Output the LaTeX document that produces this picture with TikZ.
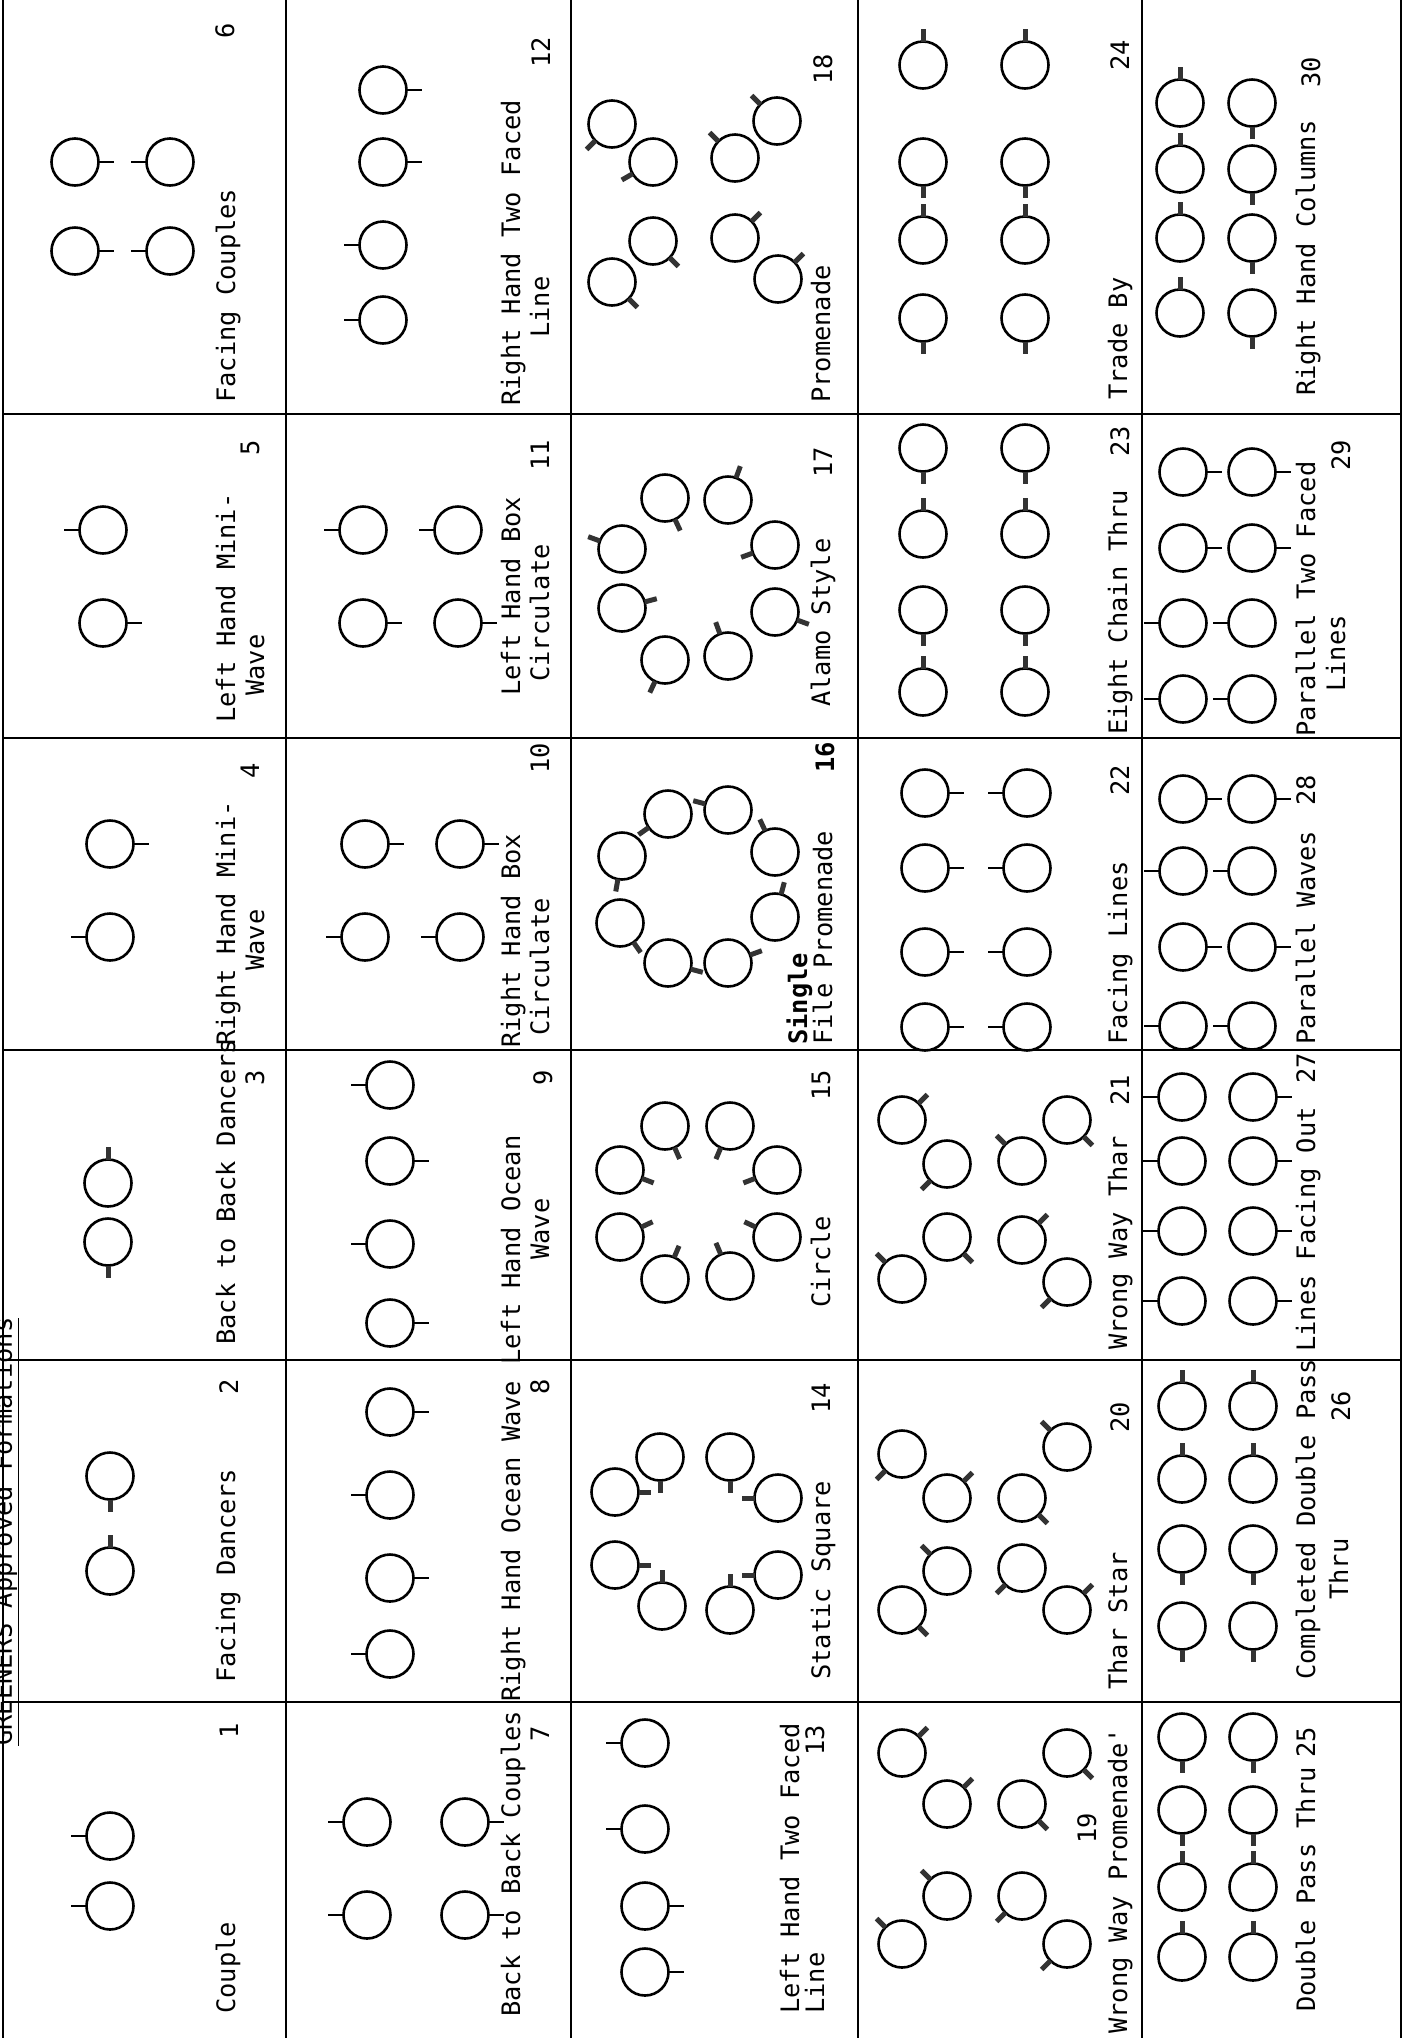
\documentclass[tikz,border=0pt]{standalone}
\usepackage{fontspec}
\setmonofont{DejaVu Sans Mono}
\usetikzlibrary{positioning}

% one dancer: circle with a nose pointing at angle #4
\newcommand{\dancer}[4][nose]{%
  \draw[dancer] (#2,#3) circle[radius=23.5];
  \draw[#1] ([shift={(#4:23.5)}]#2,#3) -- ([shift={(#4:39)}]#2,#3);}

\begin{document}
\begin{tikzpicture}[x=1pt, y=-1pt,
    dancer/.style={line width=2.6pt},
    nose/.style={line width=2.2pt},
    stub/.style={line width=5pt, black!80, shorten >=3pt},
    stripline/.style={line width=2.8pt},
    cellline/.style={line width=1.8pt},
    lbl/.style={rotate=90, anchor=mid west, inner sep=0pt, font=\ttfamily\fontsize{25.4}{28}\selectfont},
    num/.style={rotate=90, anchor=mid, inner sep=0pt, font=\ttfamily\fontsize{25.4}{28}\selectfont}]
\useasboundingbox (0,0) rectangle (1403,2038);

% grid
\foreach \xx in {3,286,571,858,1142,1401}
  \draw[stripline] (\xx,0) -- (\xx,2038);
\foreach \xa/\xb in {3/286,286/571,571/858,858/1142,1142/1401}
  \foreach \yy in {414,738,1050,1360,1702}
    \draw[cellline] (\xa,\yy) -- (\xb,\yy);

% cut-off heading at the left edge
\node (head) [lbl, anchor=base west] at (12,1746) {\underline{GREENERS Approved Formations}};

% strip 1: cells 1-6
\foreach \x/\y/\a in {110/1836/180, 110/1906/180} \dancer{\x}{\y}{\a};
\foreach \x/\y/\a in {110/1476/90, 110/1571/270} \dancer[stub]{\x}{\y}{\a};
\foreach \x/\y/\a in {108/1183/270, 108/1242/90} \dancer[stub]{\x}{\y}{\a};
\foreach \x/\y/\a in {110/844/0, 110/937/180} \dancer{\x}{\y}{\a};
\foreach \x/\y/\a in {103/530/180, 103/623/0} \dancer{\x}{\y}{\a};
\foreach \x/\y/\a in {75/162/0, 170/162/180, 75/251/0, 170/251/180} \dancer{\x}{\y}{\a};

\node (l1) [lbl] at (233,2014) {Couple};
\node (n1) [num] at (236,1731) {1};
\node (l2) [lbl] at (233,1683) {Facing Dancers};
\node (n2) [num] at (236,1387) {2};
\node (l3) [lbl] at (233,1345) {Back to Back Dancers};
\node (n3) [num] at (262,1078) {3};
\node (l4) [lbl] at (233,1046) {Right Hand Mini-};
\node (l4b) [lbl] at (262,971) {Wave};
\node (n4) [num] at (257,771) {4};
\node (l5) [lbl] at (233,723) {Left Hand Mini-};
\node (l5b) [lbl] at (262,696) {Wave};
\node (n5) [num] at (257,448) {5};
\node (l6) [lbl] at (233,403) {Facing Couples};
\node (n6) [num] at (232,31) {6};

% strip 2: cells 7-12
\foreach \x/\y/\a in {367/1822/180, 367/1915/180, 465/1822/0, 465/1915/0} \dancer{\x}{\y}{\a};
\foreach \y/\a in {1412/0, 1495/180, 1578/0, 1654/180} \dancer{390}{\y}{\a};
\foreach \y/\a in {1085/180, 1161/0, 1244/180, 1323/0} \dancer{390}{\y}{\a};
\foreach \x/\y/\a in {365/844/0, 365/937/180, 460/844/0, 460/937/180} \dancer{\x}{\y}{\a};
\foreach \x/\y/\a in {363/530/180, 363/623/0, 458/530/180, 458/623/0} \dancer{\x}{\y}{\a};
\foreach \y/\a in {90/0, 162/0, 245/180, 320/180} \dancer{383}{\y}{\a};

\node (l7) [lbl] at (518,2017) {Back to Back Couples};
\node (n7) [num] at (547,1734) {7};
\node (l8) [lbl] at (518,1702) {Right Hand Ocean Wave};
\node (n8) [num] at (547,1387) {8};
\node (l9) [lbl] at (518,1365) {Left Hand Ocean};
\node (l9b) [lbl] at (547,1260) {Wave};
\node (n9) [num] at (550,1078) {9};
\node (l10) [lbl] at (518,1048) {Right Hand Box};
\node (l10b) [lbl] at (547,1036) {Circulate};
\node (n10) [num] at (547,758) {10};
\node (l11) [lbl] at (518,696) {Left Hand Box};
\node (l11b) [lbl] at (547,682) {Circulate};
\node (n11) [num] at (547,455) {11};
\node (l12) [lbl] at (518,406) {Right Hand Two Faced};
\node (l12b) [lbl] at (547,338) {Line};
\node (n12) [num] at (548,52) {12};

% strip 3: cells 13-18
\foreach \y/\a in {1743/180, 1829/180, 1906/0, 1972/0} \dancer{645}{\y}{\a};
\foreach \x/\y/\a in {660/1457/90, 615/1492/0, 615/1565/0, 662/1606/270,
                      730/1457/90, 778/1498/180, 778/1575/180, 730/1610/270} \dancer[stub]{\x}{\y}{\a};
\foreach \x/\y/\a in {665/1126/66, 620/1170/21, 620/1237/335, 665/1279/293,
                      730/1126/113, 777/1170/159, 777/1237/205, 730/1276/247} \dancer[stub]{\x}{\y}{\a};
\foreach \x/\y/\a in {668/814/145, 622/856/100, 620/923/55, 668/963/15,
                      728/963/340, 775/917/285, 775/852/245, 728/810/195} \dancer[stub]{\x}{\y}{\a};
\foreach \x/\y/\a in {665/498/65, 622/549/200, 622/608/345, 665/660/115,
                      728/500/290, 775/545/160, 775/612/20, 728/656/250} \dancer[stub]{\x}{\y}{\a};
\foreach \x/\y/\a in {612/124/135, 653/162/150, 653/241/45, 612/282/45,
                      735/158/225, 777/121/225, 735/238/315, 778/279/315} \dancer[stub]{\x}{\y}{\a};

\node (l13) [lbl] at (797,2014) {Left Hand Two Faced};
\node (l13b) [lbl] at (822,2014) {Line};
\node (n13) [num] at (822,1740) {13};
\node (l14) [lbl] at (828,1680) {Static Square};
\node (n14) [num] at (828,1398) {14};
\node (l15) [lbl] at (828,1308) {Circle};
\node (n15) [num] at (828,1085) {15};
\node (l16) [lbl, font=\ttfamily\bfseries\fontsize{25.4}{28}\selectfont] at (805,1045) {Single};
\node (l16b) [lbl] at (830,1045) {File Promenade};
\node (n16) [num, font=\ttfamily\bfseries\fontsize{25.4}{28}\selectfont] at (832,757) {16};
\node (l17) [lbl] at (828,707) {Alamo Style};
\node (n17) [num] at (830,462) {17};
\node (l18) [lbl] at (828,403) {Promenade};
\node (n18) [num] at (830,69) {18};

% strip 4: cells 19-24
\foreach \x/\y/\a in {902/1753/315, 947/1804/315, 947/1896/225, 902/1944/225,
                      1067/1753/45, 1022/1804/45, 1022/1896/135, 1067/1944/135} \dancer[stub]{\x}{\y}{\a};
\foreach \x/\y/\a in {902/1454/135, 947/1498/315, 947/1571/225, 902/1610/45,
                      1022/1498/45, 1067/1447/225, 1022/1568/135, 1067/1610/315} \dancer[stub]{\x}{\y}{\a};
\foreach \x/\y/\a in {902/1120/315, 947/1164/135, 947/1237/45, 902/1279/225,
                      1022/1161/225, 1067/1120/45, 1022/1240/315, 1067/1282/135} \dancer[stub]{\x}{\y}{\a};
\foreach \y in {793,868,952,1027} {\dancer{925}{\y}{0} \dancer{1027}{\y}{180}}
\foreach \y/\a in {448/90, 534/270, 610/90, 692/270} {\dancer[stub]{923}{\y}{\a} \dancer[stub]{1025}{\y}{\a}}
\foreach \y/\a in {65/270, 162/90, 240/270, 318/90} {\dancer[stub]{923}{\y}{\a} \dancer[stub]{1025}{\y}{\a}}

\node (l19) [lbl] at (1125,2034) {Wrong Way Promenade'};
\node (n19) [num] at (1094,1828) {19};
\node (l20) [lbl] at (1125,1690) {Thar Star};
\node (n20) [num] at (1127,1417) {20};
\node (l21) [lbl] at (1125,1350) {Wrong Way Thar};
\node (n21) [num] at (1127,1090) {21};
\node (l22) [lbl] at (1125,1045) {Facing Lines};
\node (n22) [num] at (1127,780) {22};
\node (l23) [lbl] at (1125,735) {Eight Chain Thru};
\node (n23) [num] at (1127,441) {23};
\node (l24) [lbl] at (1125,400) {Trade By};
\node (n24) [num] at (1127,55) {24};

% strip 5: cells 25-30
\foreach \y/\a in {1737/90, 1810/90, 1887/270, 1957/270} {\dancer[stub]{1182}{\y}{\a} \dancer[stub]{1253}{\y}{\a}}
\foreach \y/\a in {1406/270, 1479/270, 1549/90, 1626/90} {\dancer[stub]{1182}{\y}{\a} \dancer[stub]{1253}{\y}{\a}}
\foreach \y in {1097,1161,1231,1301} {\dancer{1182}{\y}{180} \dancer{1253}{\y}{0}}
\foreach \y/\a in {799/0, 871/180, 947/0, 1026/180} {\dancer{1183}{\y}{\a} \dancer{1252}{\y}{\a}}
\foreach \y/\a in {472/0, 548/0, 623/180, 699/180} {\dancer{1183}{\y}{\a} \dancer{1252}{\y}{\a}}
\foreach \y in {103,169,238,313} {\dancer[stub]{1180}{\y}{270} \dancer[stub]{1252}{\y}{90}}

\node (l25) [lbl] at (1313,2012) {Double Pass Thru};
\node (n25) [num] at (1313,1742) {25};
\node (l26) [lbl] at (1313,1680) {Completed Double Pass};
\node (l26b) [lbl] at (1346,1600) {Thru};
\node (n26) [num] at (1348,1406) {26};
\node (l27) [lbl] at (1313,1352) {Lines Facing Out};
\node (n27) [num] at (1313,1068) {27};
\node (l28) [lbl] at (1313,1045) {Parallel Waves};
\node (n28) [num] at (1313,790) {28};
\node (l29) [lbl] at (1313,737) {Parallel Two Faced};
\node (l29b) [lbl] at (1343,692) {Lines};
\node (n29) [num] at (1348,455) {29};
\node (l30) [lbl] at (1313,396) {Right Hand Columns};
\node (n30) [num] at (1318,72) {30};
\end{tikzpicture}
\end{document}
